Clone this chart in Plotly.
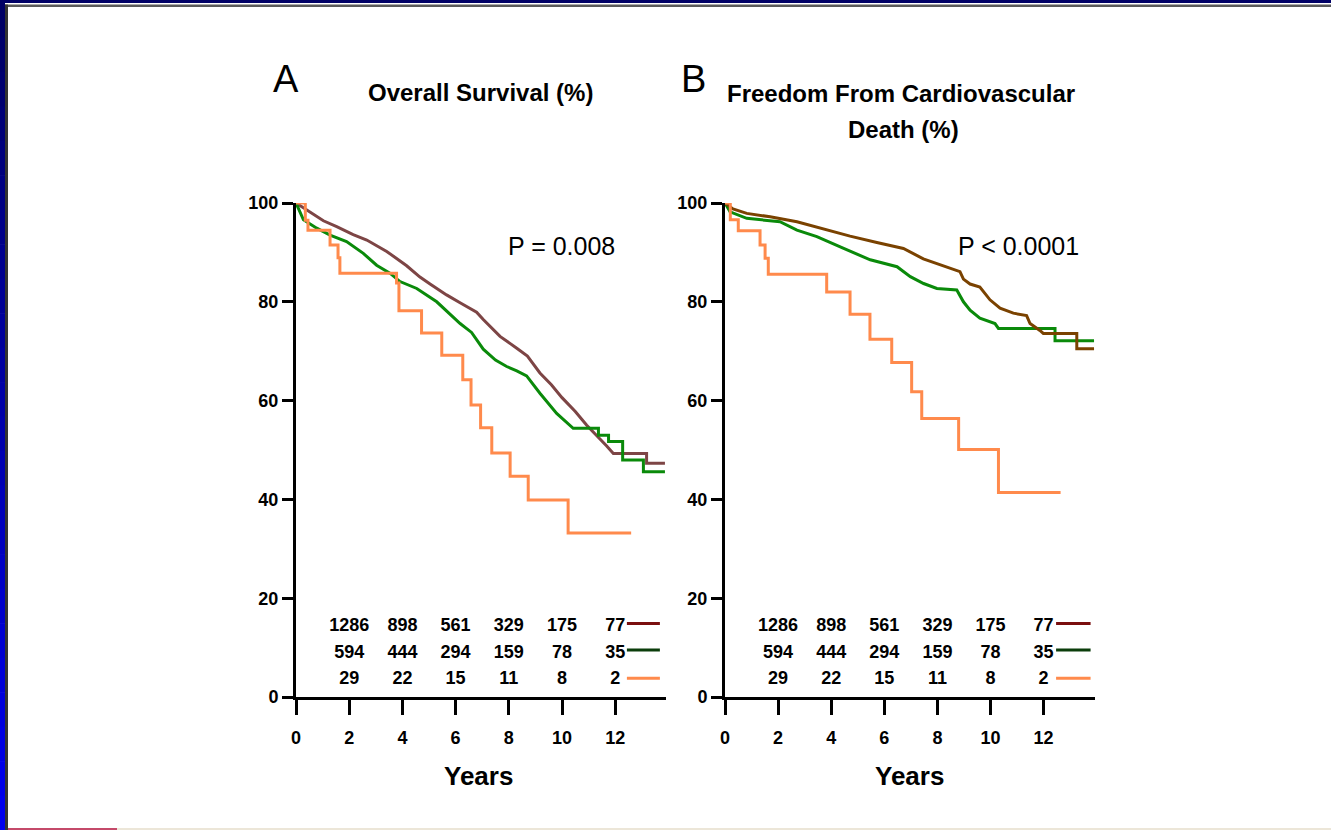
import plotly.graph_objects as go

W, H = 1331, 830
OFF = 8  # the graph div is shifted by -8px on the page; draw everything 8px further in

# ---------------- data ----------------
years_ticks = [0, 2, 4, 6, 8, 10, 12]
pct_ticks = [0, 20, 40, 60, 80, 100]

# Panel A: Overall survival
A_high_t = [0, 0.53, 1.03, 1.53, 2.15, 2.66, 3.41, 4.16, 4.66, 5.04, 5.66, 6.2, 6.79, 7.04, 7.67, 8.3, 8.7,
            9.17, 9.6, 10.0, 10.5, 10.93, 11.3, 11.68, 11.93, 13.18, 13.18, 13.87]
A_high_s = [100, 98.2, 96.4, 95.2, 93.6, 92.5, 90.2, 87.3, 85.0, 83.6, 81.4, 79.7, 77.9, 76.4, 73.0, 70.6, 69.0,
            65.6, 63.2, 60.6, 57.8, 55.0, 53.0, 50.8, 49.3, 49.3, 47.3, 47.3]
A_mid_t = [0, 0.28, 0.78, 1.28, 1.9, 2.53, 3.03, 3.53, 3.91, 4.54, 5.29, 5.91, 6.17, 6.6, 7.04, 7.5, 7.92, 8.3,
           8.67, 9.17, 9.8, 10.42, 11.37, 11.37, 11.75, 11.75, 12.28, 12.28, 13.06, 13.06, 13.87]
A_mid_s = [100, 96.6, 94.9, 93.5, 92.2, 89.8, 87.4, 85.8, 84.1, 82.7, 80.0, 76.9, 75.6, 73.8, 70.4, 68.2, 66.9, 66.0,
           65.0, 61.5, 57.4, 54.4, 54.4, 53.0, 53.0, 51.7, 51.7, 48.0, 48.0, 45.6, 45.6]
A_low_t = [0, 0.35, 0.45, 1.28, 1.58, 1.65, 3.78, 3.87, 4.72, 5.48, 6.27, 6.58, 6.94, 7.36, 8.05, 8.73, 10.23, 12.6]
A_low_s = [100, 96.5, 94.5, 91.5, 88.9, 85.8, 83.8, 78.2, 73.7, 69.2, 64.2, 59.1, 54.5, 49.4, 44.7, 39.9, 33.2, 33.2]

# Panel B: Freedom from cardiovascular death
B_high_t = [0, 0.3, 0.82, 1.7, 2.71, 3.71, 4.71, 5.72, 6.72, 7.47, 8.35, 8.85, 8.98, 9.23, 9.6, 9.98, 10.36,
            10.86, 11.36, 11.49, 11.86, 11.99, 13.25, 13.25, 13.9]
B_high_s = [100, 98.8, 97.9, 97.2, 96.2, 94.7, 93.3, 92.0, 90.8, 88.7, 87.0, 86.1, 84.6, 83.6, 83.0, 80.4, 78.7,
            77.7, 77.2, 75.6, 74.2, 73.6, 73.6, 70.5, 70.5]
B_mid_t = [0, 0.19, 0.82, 2.07, 2.71, 3.46, 4.47, 5.47, 6.48, 6.98, 7.48, 7.98, 8.73, 8.98, 9.23, 9.6, 10.17,
           10.3, 12.43, 12.43, 13.9]
B_mid_s = [100, 98.2, 96.9, 96.2, 94.5, 93.2, 90.8, 88.5, 87.1, 85.1, 83.7, 82.7, 82.4, 80.0, 78.3, 76.7, 75.6,
           74.6, 74.6, 72.1, 72.1]
B_low_t = [0, 0.2, 0.5, 1.32, 1.51, 1.63, 3.83, 4.71, 5.46, 6.28, 7.03, 7.41, 8.8, 10.3, 12.64]
B_low_s = [100, 96.6, 94.4, 91.5, 88.8, 85.6, 82.0, 77.5, 72.4, 67.7, 61.8, 56.4, 50.1, 41.4, 41.4]

# Numbers at risk
risk_years = [2, 4, 6, 8, 10, 12]
risk_high = [1286, 898, 561, 329, 175, 77]
risk_mid = [594, 444, 294, 159, 78, 35]
risk_low = [29, 22, 15, 11, 8, 2]

# ---------------- style ----------------
FONT = "Liberation Sans, Arial, sans-serif"
C_BROWN_A = "#7d4545"
C_BROWN_B = "#7a4200"
C_GREEN = "#0a8a0a"
C_ORANGE = "#ff8a4c"
L_MAROON = "#7a0f0f"
L_DKGREEN = "#0b3d0b"

FW, FH = W + OFF, H + OFF


def px(x):
    return (x + OFF) / FW


def py(y):
    return 1 - (y + OFF) / FH


fig = go.Figure()


def add_curve(t, s, color, xa, ya, shape):
    fig.add_trace(go.Scatter(x=t, y=s, mode="lines", line=dict(color=color, width=3, shape=shape),
                             xaxis=xa, yaxis=ya, showlegend=False, hoverinfo="skip"))


add_curve(A_high_t, A_high_s, C_BROWN_A, "x", "y", "linear")
add_curve(A_mid_t, A_mid_s, C_GREEN, "x", "y", "linear")
add_curve(A_low_t, A_low_s, C_ORANGE, "x", "y", "hv")
add_curve(B_mid_t, B_mid_s, C_GREEN, "x2", "y2", "linear")
add_curve(B_high_t, B_high_s, C_BROWN_B, "x2", "y2", "linear")
add_curve(B_low_t, B_low_s, C_ORANGE, "x2", "y2", "hv")

row_y = [14.2, 8.85, 3.45]
for xa, ya in (("x", "y"), ("x2", "y2")):
    for vals, yy in zip((risk_high, risk_mid, risk_low), row_y):
        fig.add_trace(go.Scatter(x=risk_years, y=[yy] * len(risk_years), mode="text",
                                 text=[str(v) for v in vals], textposition="middle center",
                                 textfont=dict(family=FONT, size=18, color="black", weight="bold"),
                                 xaxis=xa, yaxis=ya, showlegend=False, hoverinfo="skip", cliponaxis=False))

ydom = [py(697), py(203)]
axis_common = dict(showgrid=False, zeroline=False, showline=True, linecolor="black", linewidth=3,
                   ticks="outside", tickcolor="black", tickwidth=3,
                   tickfont=dict(family=FONT, size=18, color="black", weight="bold"))

fig.update_layout(
    autosize=True, margin=dict(l=0, r=0, t=0, b=0, autoexpand=False),
    paper_bgcolor="white", plot_bgcolor="white", showlegend=False,
    xaxis=dict(domain=[px(296), px(296 + 13.9 * 26.6)], range=[0, 13.9], tickvals=years_ticks,
               ticklen=15, ticklabelstandoff=7, anchor="y", **axis_common),
    yaxis=dict(domain=ydom, range=[0, 100], tickvals=pct_ticks, ticklen=11, anchor="x", **axis_common),
    xaxis2=dict(domain=[px(725), px(725 + 13.95 * 26.55)], range=[0, 13.95], tickvals=years_ticks,
                ticklen=15, ticklabelstandoff=7, anchor="y2", **axis_common),
    yaxis2=dict(domain=ydom, range=[0, 100], tickvals=pct_ticks, ticklen=11, anchor="x2", **axis_common),
)

shapes = []
# legend lines next to the at-risk table
for xr, yr, x0, x1 in (("x", "y", 12.44, 13.68), ("x2", "y2", 12.47, 13.77)):
    for yy, col in zip((14.9, 9.5, 3.8), (L_MAROON, L_DKGREEN, C_ORANGE)):
        shapes.append(dict(type="line", xref=xr, yref=yr, x0=x0, x1=x1, y0=yy, y1=yy,
                           line=dict(color=col, width=3)))


def rect(x0, x1, y0, y1, color):
    # pixel box (top-left origin) -> paper
    shapes.append(dict(type="rect", xref="paper", yref="paper", x0=px(x0), x1=px(x1), y0=py(y1), y1=py(y0),
                       fillcolor=color, line=dict(width=0), layer="above"))


# slide frame
rect(-OFF, W, -OFF, 3, "#000066")
rect(5, W, 4.5, 7, "#5a5a5a")
nseg = 24
for i in range(nseg):
    y0p = 3 + (H - 3) * i / nseg
    y1p = 3 + (H - 3) * (i + 1) / nseg + 0.6
    f = i / (nseg - 1)
    b = int(0x66 + (0xee - 0x66) * f)
    rect(-OFF, 5, y0p, y1p, "#0000%02x" % b)
rect(5, 8, 4.5, H, "#333333")
rect(8, 117, 828, H, "#c44a6a")
rect(117, W, 828, H, "#ece6d8")
fig.update_layout(shapes=shapes)

ann = []


def text(x, y, s, size, bold=False):
    ann.append(dict(xref="paper", yref="paper", x=px(x), y=py(y), text=s, showarrow=False,
                    xanchor="center", yanchor="middle",
                    font=dict(family=FONT, size=size, color="black", weight="bold" if bold else "normal")))


text(286, 79, "A", 38)
text(481, 92, "Overall Survival (%)", 24, bold=True)
text(693, 79, "B", 38)
text(901, 93, "Freedom From Cardiovascular", 24, bold=True)
text(903, 129, "Death (%)", 24, bold=True)
text(561, 246, "P = 0.008", 25)
text(1018, 246, "P < 0.0001", 25)
text(478, 776, "Years", 26, bold=True)
text(909, 776, "Years", 26, bold=True)
fig.update_layout(annotations=ann)

# graph div shifted -8px so that it covers the whole 1331x830 window
fig.write_html("out.html", default_width="%dpx" % FW, default_height="%dpx; margin:-%dpx 0 0 -%dpx" % (FH, OFF, OFF))
